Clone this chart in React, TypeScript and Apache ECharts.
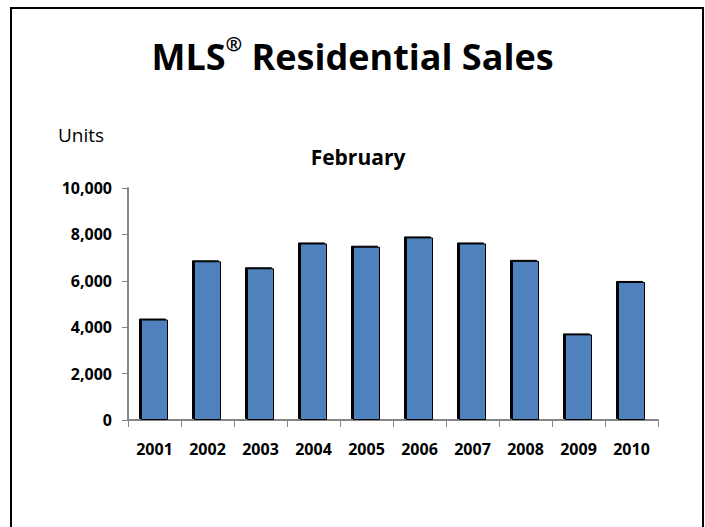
import React, { useEffect, useRef } from "react";
import * as echarts from "echarts";

const years = ["2001", "2002", "2003", "2004", "2005", "2006", "2007", "2008", "2009", "2010"];
const sales = [4330, 6840, 6540, 7610, 7470, 7870, 7610, 6860, 3690, 5950];
const yTicks = { min: 0, max: 10000, interval: 2000 };
const titleMain = "MLS";
const titleMark = "®";
const titleRest = " Residential Sales";
const subTitleText = "February";
const unitText = "Units";

const FONT = "'Open Sans', Lato, sans-serif";

export default function App() {
  const ref = useRef<HTMLDivElement>(null);
  useEffect(() => {
    if (!ref.current) return;
    const chart = echarts.init(ref.current, null, { renderer: "svg" });
    chart.setOption({
      animation: false,
      backgroundColor: "#fff",
      textStyle: { fontFamily: FONT },
      title: [
        {
          text: `{a|${titleMain}}{b|${titleMark}}{a|${titleRest}}`,
          left: "center",
          top: 28,
          textStyle: {
            fontFamily: FONT,
            fontWeight: "bold",
            fontSize: 36,
            color: "#000",
            rich: {
              a: { fontFamily: FONT, fontWeight: "bold", fontSize: 36, color: "#000", lineHeight: 46 },
              b: {
                fontFamily: FONT,
                fontWeight: "bold",
                fontSize: 20,
                color: "#000",
                verticalAlign: "top",
                lineHeight: 46,
                padding: [0, 0, 14, 0],
              },
            },
          },
        },
      ],
      graphic: [
        {
          type: "rect",
          shape: { x: 11, y: 8, width: 692, height: 540 },
          style: { fill: "none", stroke: "#000", lineWidth: 2 },
          silent: true,
        },
        {
          type: "text",
          x: 58,
          y: 135,
          style: { text: unitText, font: `19px ${FONT}`, fill: "#000", textVerticalAlign: "middle" },
        },
        {
          type: "text",
          x: 358,
          y: 157,
          style: {
            text: subTitleText,
            font: `bold 21px ${FONT}`,
            fill: "#000",
            textAlign: "center",
            textVerticalAlign: "middle",
          },
        },
      ],
      grid: { left: 128, right: 47, top: 188, bottom: 107, containLabel: false },
      xAxis: {
        type: "category",
        data: years,
        axisLine: { lineStyle: { color: "#868686", width: 2 } },
        axisTick: { show: true, length: 7, lineStyle: { color: "#868686", width: 1 }, alignWithLabel: false },
        axisLabel: { color: "#000", fontWeight: "bold", fontSize: 16, fontFamily: FONT, margin: 21 },
      },
      yAxis: {
        type: "value",
        min: yTicks.min,
        max: yTicks.max,
        interval: yTicks.interval,
        splitLine: { show: false },
        axisLine: { show: true, lineStyle: { color: "#868686", width: 2 } },
        axisTick: { show: true, length: 6, lineStyle: { color: "#868686", width: 1 } },
        axisLabel: {
          color: "#000",
          fontWeight: "bold",
          fontSize: 16,
          fontFamily: FONT,
          margin: 16,
          formatter: (v: number) => v.toLocaleString("en-US"),
        },
      },
      series: [
        {
          type: "bar",
          data: sales,
          barWidth: "51%",
          itemStyle: {
            color: "#4F81BD",
            borderColor: "#000",
            borderWidth: 1,
            shadowColor: "#000",
            shadowBlur: 0,
            shadowOffsetX: -2,
            shadowOffsetY: -1,
          },
        },
      ],
    });
    return () => chart.dispose();
  }, []);
  return (
    <div
      ref={ref}
      style={{ position: "fixed", left: 0, top: 0, width: 705, height: 527, background: "#fff" }}
    />
  );
}
